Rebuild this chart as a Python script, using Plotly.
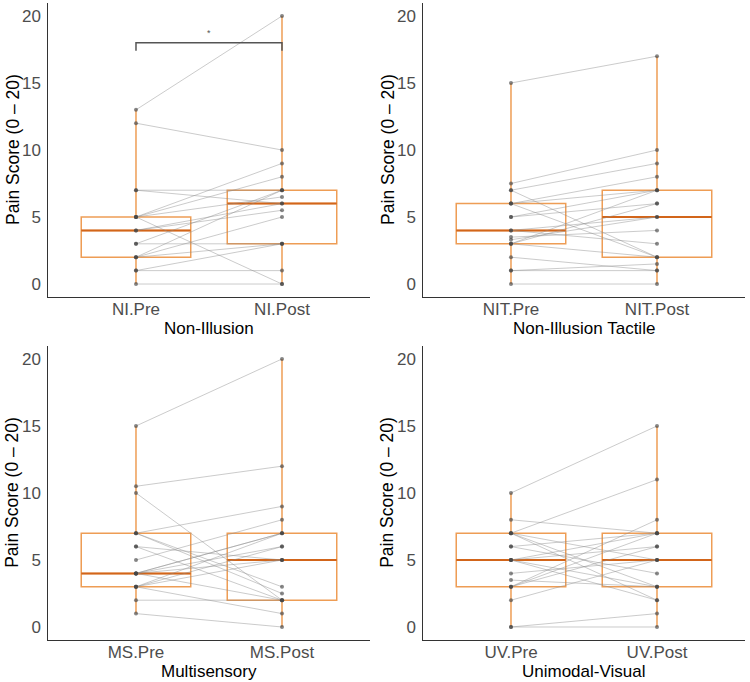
import numpy as np
import plotly.graph_objects as go

# ---------------- data ----------------
panel_titles = ["Non-Illusion", "Non-Illusion Tactile", "Multisensory", "Unimodal-Visual"]
tick_labels = [["NI.Pre", "NI.Post"], ["NIT.Pre", "NIT.Post"], ["MS.Pre", "MS.Post"], ["UV.Pre", "UV.Post"]]

ni_pre  = [13, 12, 7, 7, 5, 5, 5, 5, 4, 4, 3, 3, 2, 2, 2, 1, 1, 0]
ni_post = [20, 10, 7, 6, 9, 8, 0, 6.5, 6, 5.5, 7, 3, 7, 5, 3, 3, 1, 0]

nit_pre  = [15, 7.5, 7, 7, 6, 6, 6, 5, 5, 4, 4, 3.5, 3.3, 3, 3, 3, 2, 1, 1, 0]
nit_post = [17, 10, 2, 9, 2, 7, 8, 7, 6, 5, 3, 4, 5, 6, 7, 2, 1, 1, 1.5, 0]

ms_pre  = [15, 10.5, 10, 7, 7, 7, 6, 6, 5, 4, 4, 4, 4, 4, 3, 3, 3, 3, 2, 1]
ms_post = [20, 12, 2, 9, 3, 2.5, 5, 2, 8, 7, 6, 5, 2, 7, 6, 7, 5, 1, 2, 0]

uv_pre  = [10, 7, 8, 7, 7, 7, 6, 6, 5, 5, 5, 5, 4, 3.5, 3, 3, 3, 2, 0, 0]
uv_post = [15, 11, 7, 2, 3, 5, 4, 7, 3, 2, 6, 7, 5, 3, 6, 7, 8, 5, 1, 0]

pre_values = [ni_pre, nit_pre, ms_pre, uv_pre]
post_values = [ni_post, nit_post, ms_post, uv_post]

y_ticks = [0, 5, 10, 15, 20]
sig_label = "*"
sig_y = 18

# ---------------- style ----------------
BOX_LINE = "rgba(235,140,55,0.85)"
MEDIAN = "#D2651A"
PAIR_LINE = "rgba(140,140,140,0.45)"
POINT = "rgba(70,70,70,0.65)"
FONT = "Liberation Sans, Arial, sans-serif"
BOX_W = 0.75

x_domains = [[0.0645, 0.4928], [0.5645, 0.9928], [0.0645, 0.4928], [0.5645, 0.9928]]
y_domains = [[0.5639, 0.9962], [0.5639, 0.9962], [0.0610, 0.4933], [0.0610, 0.4933]]

fig = go.Figure()
layout = {}
annotations = []
shapes = []

for i in range(4):
    xa = "x" if i == 0 else f"x{i+1}"
    ya = "y" if i == 0 else f"y{i+1}"
    pre = pre_values[i]
    post = post_values[i]
    for pos, vals in ((1, pre), (2, post)):
        fig.add_trace(go.Box(
            y=vals, x0=pos, width=BOX_W, boxpoints=False, quartilemethod="inclusive",
            whiskerwidth=0, fillcolor="rgba(255,255,255,0)",
            line=dict(color=BOX_LINE, width=1.5),
            xaxis=xa, yaxis=ya, showlegend=False, hoverinfo="skip"))
        med = float(np.percentile(vals, 50))
        fig.add_trace(go.Scatter(
            x=[pos - BOX_W / 2, pos + BOX_W / 2], y=[med, med], mode="lines",
            line=dict(color=MEDIAN, width=2), xaxis=xa, yaxis=ya,
            showlegend=False, hoverinfo="skip"))
    # paired lines
    lx, ly = [], []
    for a, b in zip(pre, post):
        lx += [1, 2, None]
        ly += [a, b, None]
    fig.add_trace(go.Scatter(x=lx, y=ly, mode="lines",
                             line=dict(color=PAIR_LINE, width=1),
                             xaxis=xa, yaxis=ya, showlegend=False, hoverinfo="skip"))
    fig.add_trace(go.Scatter(x=[1] * len(pre) + [2] * len(post), y=pre + post,
                             mode="markers", marker=dict(color=POINT, size=4),
                             xaxis=xa, yaxis=ya, showlegend=False))

    xkey = "xaxis" if i == 0 else f"xaxis{i+1}"
    ykey = "yaxis" if i == 0 else f"yaxis{i+1}"
    layout[xkey] = dict(domain=x_domains[i], anchor=ya, range=[0.4, 2.6],
                        tickvals=[1, 2], ticktext=tick_labels[i], showgrid=False,
                        zeroline=False, showline=True, linecolor="#333333", linewidth=1.2,
                        ticks="", ticklen=0, ticklabelstandoff=-4,
                        tickfont=dict(family=FONT, size=17, color="#4D4D4D"))
    layout[ykey] = dict(domain=y_domains[i], anchor=xa, range=[-1, 21],
                        tickvals=y_ticks, showgrid=False, zeroline=False,
                        showline=True, linecolor="#333333", linewidth=1.2,
                        ticks="", ticklen=0, ticklabelstandoff=3,
                        tickfont=dict(family=FONT, size=17, color="#4D4D4D"))
    # axis titles
    xc = (x_domains[i][0] + x_domains[i][1]) / 2
    annotations.append(dict(text=panel_titles[i], xref="paper", yref="paper",
                            x=xc, y=y_domains[i][0] - 31 / 682, showarrow=False,
                            xanchor="center", yanchor="middle",
                            font=dict(family=FONT, size=17, color="black")))
    annotations.append(dict(text="Pain Score (0 \u2013 20)", xref="paper", yref="paper",
                            x=x_domains[i][0] - 36 / 750,
                            y=(y_domains[i][0] + y_domains[i][1]) / 2 + 0.5 / 682,
                            textangle=-90, showarrow=False, xanchor="center", yanchor="middle",
                            font=dict(family=FONT, size=17.5, color="black")))

# significance bracket in first panel
shapes.append(dict(type="path", xref="x", yref="y",
                   path=f"M 1,{sig_y - 0.6} L 1,{sig_y} L 2,{sig_y} L 2,{sig_y - 0.6}",
                   line=dict(color="#555555", width=1.5)))
annotations.append(dict(text=sig_label, xref="x", yref="y", x=1.5, y=sig_y + 0.7,
                        showarrow=False, font=dict(family=FONT, size=9, color="#555555")))

fig.update_layout(width=750, height=682, margin=dict(l=0, r=0, t=0, b=0),
                  plot_bgcolor="white", paper_bgcolor="white",
                  annotations=annotations, shapes=shapes, showlegend=False, **layout)

fig.write_html("out.html", config={"displayModeBar": False},
               post_script="document.body.style.margin='0';document.body.style.overflow='hidden';")
